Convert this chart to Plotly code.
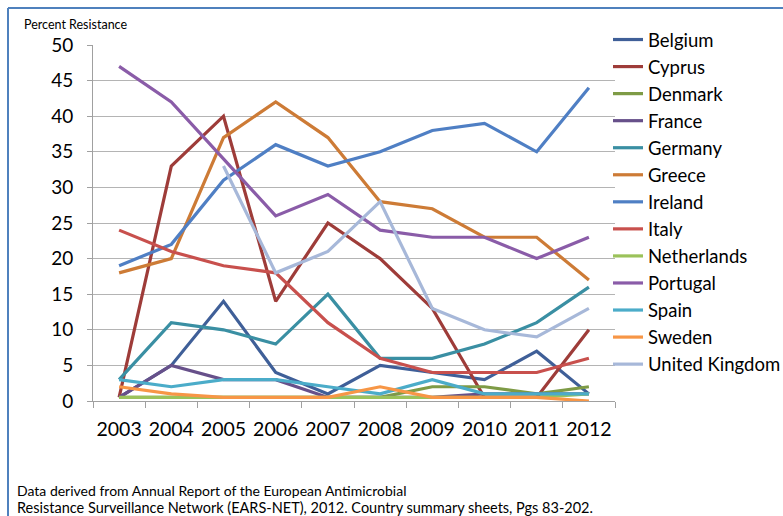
import plotly.graph_objects as go

years = ["2003", "2004", "2005", "2006", "2007", "2008", "2009", "2010", "2011", "2012"]

belgium = [0.5, 5, 14, 4, 1, 5, 4, 3, 7, 1]
cyprus = [0.5, 33, 40, 14, 25, 20, 13, 0.5, 0.5, 10]
denmark = [0.5, 0.5, 0.5, 0.5, 0.5, 0.5, 2, 2, 1, 2]
france = [0.5, 5, 3, 3, 0.5, 0.5, 0.5, 1, 1, 1]
germany = [3, 11, 10, 8, 15, 6, 6, 8, 11, 16]
greece = [18, 20, 37, 42, 37, 28, 27, 23, 23, 17]
ireland = [19, 22, 31, 36, 33, 35, 38, 39, 35, 44]
italy = [24, 21, 19, 18, 11, 6, 4, 4, 4, 6]
netherlands = [0.5, 0.5, 0.5, 0.5, 0.5, 0.5, 0.5, 0.5, 0.5, 1]
portugal = [47, 42, 34, 26, 29, 24, 23, 23, 20, 23]
spain = [3, 2, 3, 3, 2, 1, 3, 1, 1, 1]
sweden = [2, 1, 0.5, 0.5, 0.5, 2, 0.5, 0.5, 0.5, 0]
united_kingdom = [None, None, 33, 18, 21, 28, 13, 10, 9, 13]

series = [
    ("Belgium", belgium, "#3F5F98"),
    ("Cyprus", cyprus, "#9E3C39"),
    ("Denmark", denmark, "#7E9B46"),
    ("France", france, "#67508A"),
    ("Germany", germany, "#3A8FA3"),
    ("Greece", greece, "#CD7B36"),
    ("Ireland", ireland, "#4F7FC4"),
    ("Italy", italy, "#C8504D"),
    ("Netherlands", netherlands, "#9BC25A"),
    ("Portugal", portugal, "#8A5CA8"),
    ("Spain", spain, "#4BACC9"),
    ("Sweden", sweden, "#F79646"),
    ("United Kingdom", united_kingdom, "#A7B8D9"),
]

FONT = "Lato"

fig = go.Figure()
for name, vals, color in series:
    fig.add_trace(go.Scatter(
        x=years, y=vals, name=name, mode="lines",
        line=dict(color=color, width=3.2),
        connectgaps=False,
    ))

fig.update_layout(
    width=783, height=516,
    margin=dict(l=93, r=168, t=45, b=115, autoexpand=False),
    paper_bgcolor="white", plot_bgcolor="white",
    font=dict(family=FONT, color="#000000"),
    showlegend=True,
    legend=dict(
        xref="container", yref="container",
        x=608 / 783, y=1 - 21 / 516, xanchor="left", yanchor="top",
        font=dict(family=FONT, size=18.5, color="#000"),
        bgcolor="rgba(0,0,0,0)", itemwidth=30, tracegroupgap=0,
        maxheight=500,
    ),
    xaxis=dict(
        type="category", tickson="boundaries",
        ticks="outside", ticklen=6, tickcolor="#A0A0A0",
        showline=True, linecolor="#A0A0A0", linewidth=1,
        showgrid=False, tickfont=dict(family=FONT, size=19.5, color="#000"),
        tickangle=0, ticklabelstandoff=11,
        range=[-0.5, 9.5], automargin=False,
    ),
    yaxis=dict(
        range=[0, 50], dtick=5, tick0=0,
        ticks="outside", ticklen=5, tickcolor="#A0A0A0",
        showline=True, linecolor="#A0A0A0", linewidth=1,
        showgrid=True, gridcolor="#B4B4B4", gridwidth=1,
        zeroline=False, ticklabelstandoff=10, automargin=False,
        tickfont=dict(family=FONT, size=19, color="#000"),
    ),
    annotations=[
        dict(text="Percent Resistance", xref="paper", yref="paper",
             x=(22 - 93) / 522, y=(401 - 24) / 356, xanchor="left", yanchor="middle",
             showarrow=False, font=dict(family=FONT, size=12.5, color="#000")),
        dict(text="Data derived from Annual Report of the European Antimicrobial",
             xref="paper", yref="paper",
             x=(15 - 93) / 522, y=(401 - 490) / 356, xanchor="left", yanchor="middle",
             showarrow=False, font=dict(family=FONT, size=14, color="#000")),
        dict(text="Resistance Surveillance Network (EARS-NET), 2012. Country summary sheets, Pgs 83-202.",
             xref="paper", yref="paper",
             x=(15 - 93) / 522, y=(401 - 507) / 356, xanchor="left", yanchor="middle",
             showarrow=False, font=dict(family=FONT, size=14.5, color="#000")),
    ],
    shapes=[
        dict(type="line", xref="paper", yref="paper",
             x0=(8 - 93) / 522, x1=(8 - 93) / 522, y0=(401 - 520) / 356, y1=(401 - 8) / 356,
             line=dict(color="#4F81BD", width=2)),
        dict(type="line", xref="paper", yref="paper",
             x0=(8 - 93) / 522, x1=(783 - 93) / 522, y0=(401 - 8) / 356, y1=(401 - 8) / 356,
             line=dict(color="#4F81BD", width=2)),
    ],
)

fig.write_html("out.html", config={"displayModeBar": False})
